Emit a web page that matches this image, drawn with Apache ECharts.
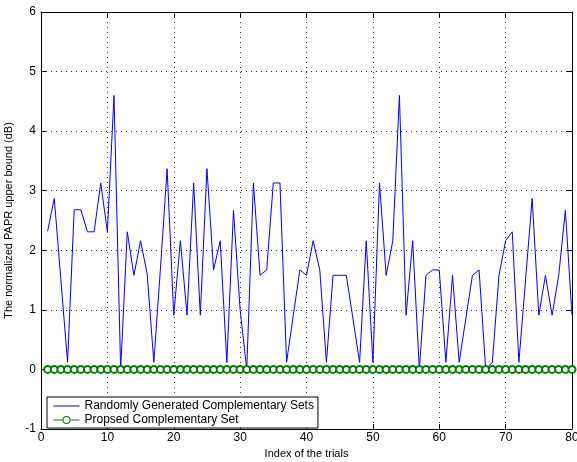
<!DOCTYPE html>
<html>
<head>
<meta charset="utf-8">
<script src="https://cdn.jsdelivr.net/npm/echarts@6/dist/echarts.min.js"></script>
<style>
  html, body { margin: 0; padding: 0; background: #fff; }
  #chart { width: 577px; height: 462px; }
</style>
</head>
<body>
<div id="chart"></div>
<script>
// trial index 1..80
const trials = Array.from({ length: 80 }, (_, i) => i + 1);

// randomly generated complementary sets (dB)
const randomSets = [
  2.32, 2.87, 1.5, 0.12, 2.68, 2.68, 2.31, 2.31, 3.13, 2.31,
  4.6, 0, 2.31, 1.58, 2.16, 1.6, 0.12, 1.7, 3.37, 0.91,
  2.16, 0.91, 3.13, 0.91, 3.37, 1.67, 2.16, 0.12, 2.67, 1.0,
  0, 3.13, 1.58, 1.67, 3.13, 3.13, 0.12, 0.9, 1.67, 1.58,
  2.16, 1.67, 0.12, 1.58, 1.58, 1.58, 0.85, 0.12, 2.16, 0.12,
  3.13, 1.58, 2.16, 4.6, 0.91, 2.16, 0, 1.58, 1.67, 1.67,
  0.12, 1.58, 0.12, 0.85, 1.58, 1.67, 0, 0.12, 1.58, 2.16,
  2.31, 0.12, 1.5, 2.87, 0.91, 1.58, 0.91, 1.58, 2.67, 0.91
];

// proposed complementary set (dB)
const proposedSet = trials.map(() => 0);

const xTicks = [0, 10, 20, 30, 40, 50, 60, 70, 80];
const yTicks = [-1, 0, 1, 2, 3, 4, 5, 6];

const chart = echarts.init(document.getElementById("chart"));

const font = "Liberation Sans, Arial, sans-serif";

const gridLine = {
  show: true,
  lineStyle: { color: "#333", type: [1, 4], width: 1 },
};

const boxAxis = {
  axisLine: { show: true, onZero: false, lineStyle: { color: "#000", width: 1 } },
  axisTick: { show: true, inside: true, length: 5, lineStyle: { color: "#000" } },
};

// legend icon: short line with a hollow circle in the middle (26 x 8 box)
const ringLineIcon =
  "path://M0,3.5L9.1,3.5L9.1,4.5L0,4.5Z" +
  "M16.9,3.5L26,3.5L26,4.5L16.9,4.5Z" +
  "M9,4A4,4 0 1,0 17,4A4,4 0 1,0 9,4Z" +
  "M10,4A3,3 0 1,1 16,4A3,3 0 1,1 10,4Z";

const option = {
  animation: false,
  backgroundColor: "#fff",
  textStyle: { fontFamily: font },
  grid: { left: 41, right: 5, top: 12, bottom: 33, containLabel: false, outerBoundsMode: "none" },
  legend: {
    orient: "vertical",
    left: 47,
    top: 397,
    itemWidth: 26,
    itemHeight: 8,
    itemGap: 2,
    padding: [3, 4, 2, 6],
    borderColor: "#000",
    borderWidth: 1,
    backgroundColor: "#fff",
    lineStyle: { width: 1 },
    textStyle: { fontFamily: font, fontSize: 12, color: "#000" },
    data: [
      {
        name: "Randomly Generated Complementary Sets",
        itemStyle: { opacity: 0 },
        lineStyle: { color: "#0000ff", width: 1 },
      },
      {
        name: "Propsed Complementary Set",
        icon: ringLineIcon,
        itemStyle: { color: "#008000", borderWidth: 0 },
      },
    ],
  },
  xAxis: [
    {
      type: "value",
      min: xTicks[0],
      max: xTicks[xTicks.length - 1],
      interval: 10,
      name: "Index of the trials",
      nameLocation: "middle",
      nameGap: 18,
      nameTextStyle: { fontFamily: font, fontSize: 11, color: "#000" },
      ...boxAxis,
      axisLabel: { fontFamily: font, fontSize: 12, color: "#000", margin: 3 },
      splitLine: gridLine,
    },
    {
      type: "value",
      position: "top",
      min: xTicks[0],
      max: xTicks[xTicks.length - 1],
      interval: 10,
      ...boxAxis,
      axisLabel: { show: false },
      splitLine: { show: false },
    },
  ],
  yAxis: [
    {
      type: "value",
      min: yTicks[0],
      max: yTicks[yTicks.length - 1],
      interval: 1,
      name: "The normalized PAPR upper bound (dB)",
      nameLocation: "middle",
      nameGap: 20,
      nameTextStyle: { fontFamily: font, fontSize: 11, color: "#000" },
      ...boxAxis,
      axisLabel: { fontFamily: font, fontSize: 12, color: "#000", margin: 5 },
      splitLine: gridLine,
    },
    {
      type: "value",
      position: "right",
      min: yTicks[0],
      max: yTicks[yTicks.length - 1],
      interval: 1,
      ...boxAxis,
      axisLabel: { show: false },
      splitLine: { show: false },
    },
  ],
  series: [
    {
      name: "Randomly Generated Complementary Sets",
      type: "line",
      data: trials.map((t, i) => [t, randomSets[i]]),
      symbol: "none",
      lineStyle: { color: "#0000ff", width: 1 },
      itemStyle: { color: "#0000ff" },
      z: 2,
    },
    {
      name: "Propsed Complementary Set",
      type: "line",
      data: trials.map((t, i) => [t, proposedSet[i]]),
      symbol: "emptyCircle",
      symbolSize: 7,
      lineStyle: { color: "#008000", width: 1 },
      itemStyle: { color: "#008000", borderColor: "#008000", borderWidth: 1 },
      z: 3,
    },
  ],
};

chart.setOption(option);
</script>
</body>
</html>
